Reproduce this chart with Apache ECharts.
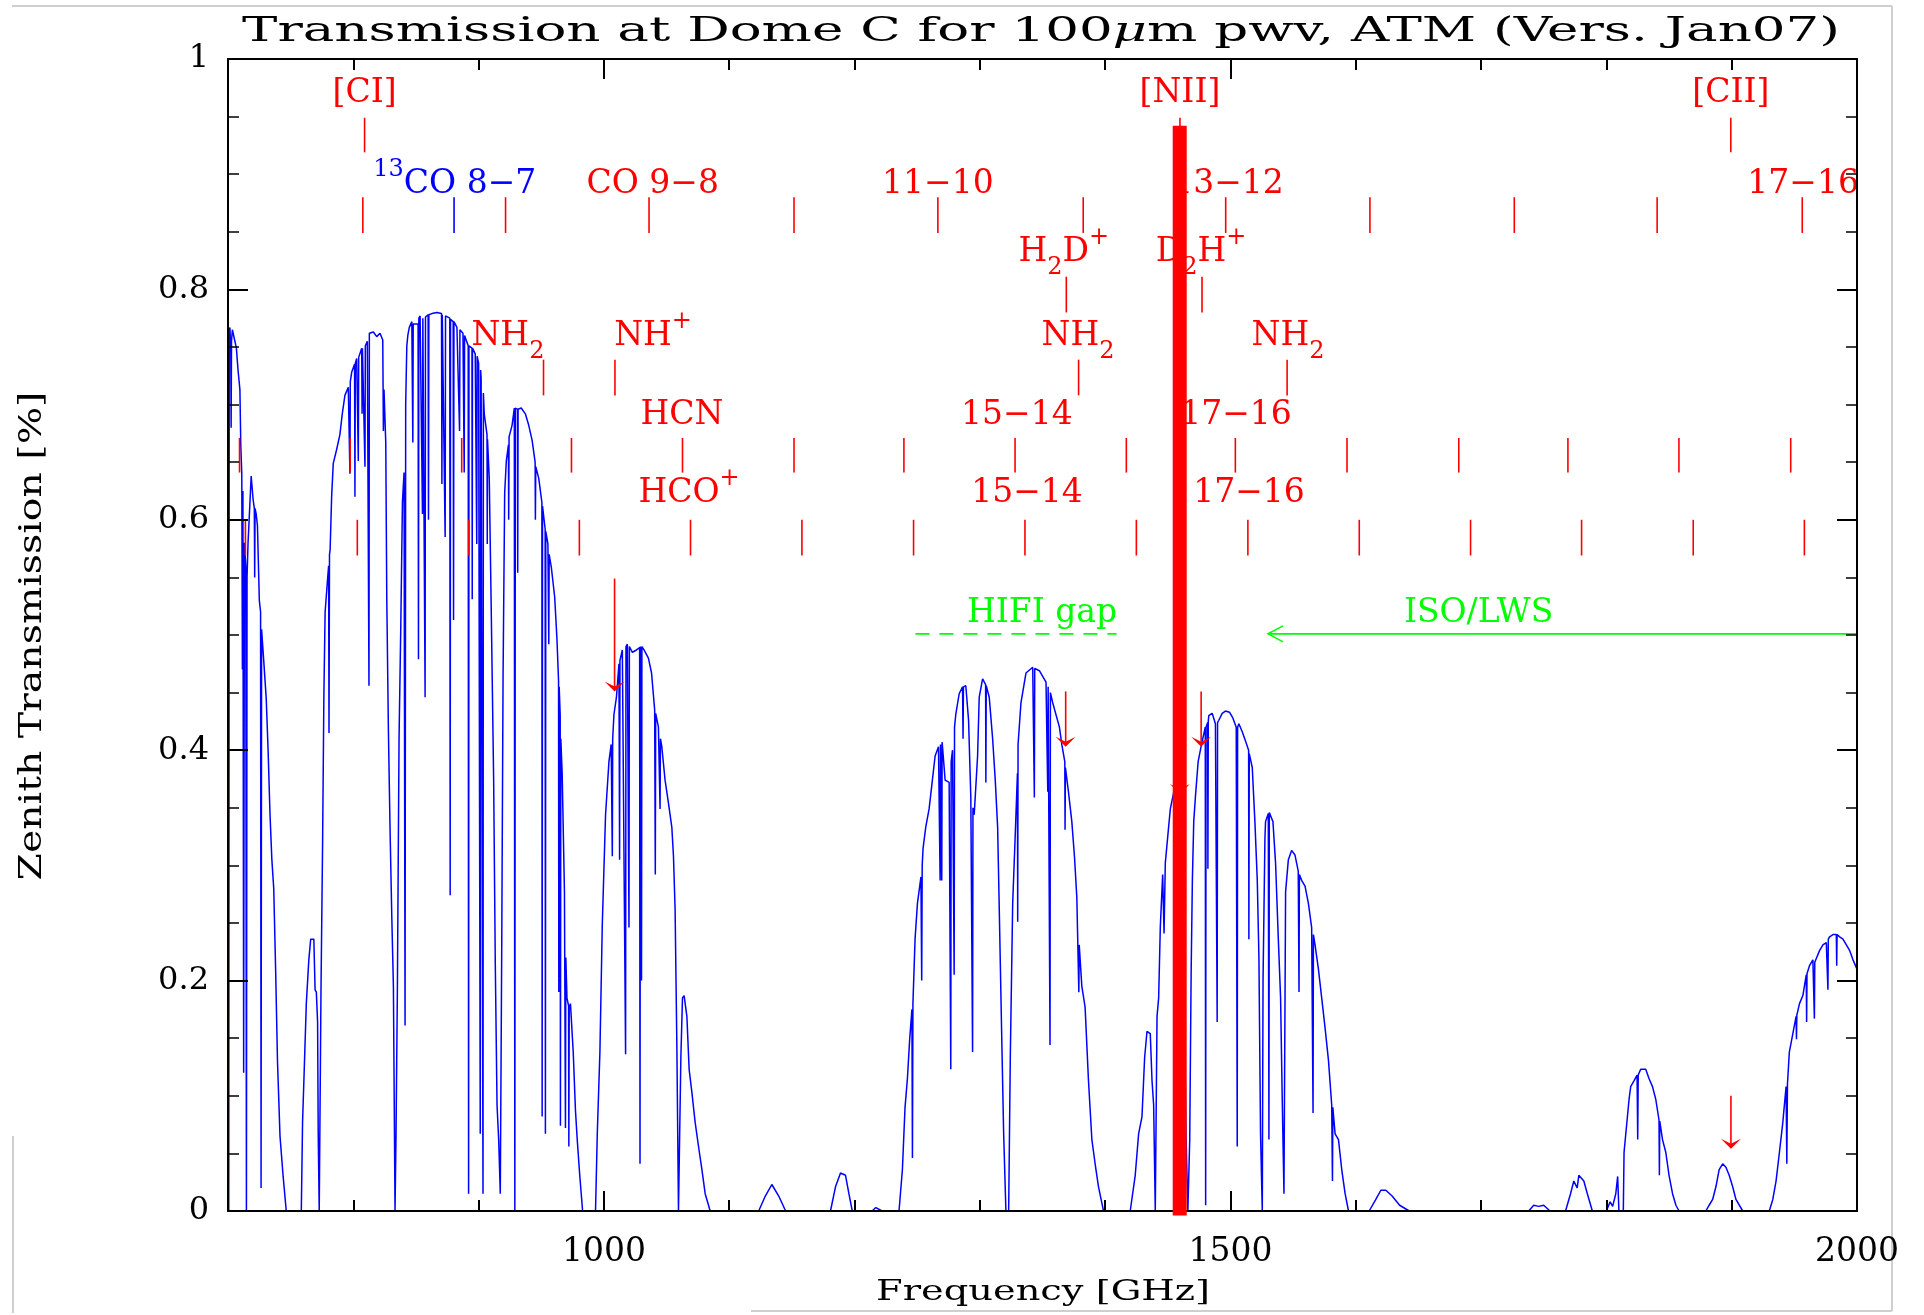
<!DOCTYPE html>
<html><head><meta charset="utf-8">
<script src="https://cdn.jsdelivr.net/npm/echarts@6/dist/echarts.min.js"></script>
<style>html,body{margin:0;padding:0;background:#fff}#chart{width:1924px;height:1315px}</style>
</head><body><div id="chart"></div>
<script>
// ---------- data ----------
// transmission curve: [frequency GHz, zenith transmission]
const transmission = [
[700,0.70],[700.6,0.0],[701,0.76],[701.5,0.767],[702.2,0.75],[702.5,0.68],[702.8,0.755],[703.5,0.765],[704.5,0.76],[705.5,0.755],[706.7,0.749],[708,0.73],[709.5,0.713],[710.2,0.665],[711,0.64],[711.5,0.47],[711.9,0.625],[712.5,0.12],[713.1,0.58],[714.2,0.56],[714.7,0.0],[715.2,0.55],[716,0.58],[717,0.603],[718.5,0.638],[720,0.618],[721,0.61],[721.3,0.55],[721.6,0.61],[722.5,0.605],[723.5,0.595],[725,0.53],[726,0.52],[726.4,0.02],[726.8,0.505],[728.5,0.478],[730.5,0.445],[732,0.4],[733.5,0.345],[735,0.305],[736.5,0.28],[738,0.21],[739.5,0.13],[741.5,0.065],[744,0.03],[746.5,0],
[758.5,0],[759.5,0.077],[761,0.128],[762.5,0.18],[764.5,0.218],[766,0.236],[768.5,0.236],[769.5,0.192],[770.5,0.19],[771.5,0.164],[772,0.067],[772.8,0],[773.8,0],[774.2,0.19],[775.5,0.32],
[776.5,0.446],[777.5,0.52],[779.5,0.549],[780.3,0.56],[780.6,0.415],[781,0.57],[781.5,0.574],[782.7,0.62],[784,0.649],[786.7,0.661],[789.3,0.674],[791.2,0.692],[793.3,0.708],[796,0.715],[797.3,0.64],[797.6,0.72],[798.7,0.728],[801,0.735],[801.3,0.62],[801.6,0.736],[802.7,0.74],[804,0.651],[804.3,0.741],[806.7,0.749],[807,0.692],[807.3,0.749],[809.3,0.646],[809.6,0.751],[811.2,0.755],[812.5,0.456],[812.8,0.762],[814,0.763],[816,0.763],[818.7,0.759],[821.3,0.762],[823.5,0.756],[824,0.677],[824.5,0.713],[825.9,0.667],[826.7,0.533],[828,0.418],[829.3,0.333],[830.7,0.256],[832,0.195],[833.3,0],
[834.1,0.067],[835.2,0.195],[836.5,0.41],[837.9,0.508],[839.2,0.615],[840.5,0.641],[841.3,0.161],[841.8,0.70],[842.7,0.751],[843.5,0.76],[844.7,0.767],[846.7,0.772],[847.5,0.667],[847.8,0.77],[849.3,0.769],[851.7,0.77],[852,0.479],[852.3,0.775],[853.3,0.777],[855.2,0.605],[855.5,0.775],[856.8,0.774],[857.3,0.446],[857.6,0.776],[859.7,0.778],[860,0.6],[860.3,0.778],[862.7,0.779],[866.7,0.78],[870.4,0.779],[870.7,0.631],[871,0.778],[873.3,0.585],[873.6,0.777],[877,0.775],[877.3,0.274],[877.6,0.774],[879.7,0.772],[880,0.513],[880.3,0.772],[882.7,0.767],[884.8,0.677],[885.1,0.765],[887.5,0.762],[888.5,0.641],[888.8,0.76],[891.7,0.751],[892,0.015],[892.3,0.751],[894.7,0.749],[894.9,0.531],[895.1,0.749],[897.3,0.744],[898.5,0.579],[898.8,0.742],[900,0.736],[901.3,0.067],[901.6,0.73],[902,0.723],[903.5,0.015],[903.8,0.71],[904.5,0.692],[906.7,0.674],[906.9,0.579],[907.1,0.67],[908.5,0.636],[910.1,0.52],[912,0.374],[913.3,0.215],[914.7,0.092],[916,0.062],[917.3,0.015],
[918.4,0.22],[919.5,0.462],[920.8,0.623],[922.1,0.651],[923.8,0.665],[924,0.6],[924.3,0.672],[926.7,0.682],[928.5,0.697],[928.9,0.0],[929.3,0.697],[931,0.696],[931.2,0.554],[931.5,0.696],[934,0.697],[937.3,0.692],[940,0.682],[942.7,0.669],[945.1,0.65],[945.3,0.6],[945.6,0.646],[948,0.636],[950.5,0.615],[950.7,0.082],[951,0.612],[953.1,0.592],[953.3,0.067],[953.6,0.59],[955.3,0.579],[956,0.492],[956.3,0.57],[958,0.559],[960.7,0.533],[962.5,0.497],[963.8,0.46],[964,0.19],[964.3,0.455],[965.1,0.43],[965.3,0.074],[965.6,0.41],[966.7,0.379],[968.5,0.277],[969.3,0.072],[969.6,0.22],[970.5,0.185],[971.8,0.178],[972,0.056],[972.3,0.177],[973.3,0.18],[975.5,0.138],[977.3,0.087],[978.7,0.062],[980.7,0.031],[983,0],
[993.3,0],[994.7,0.067],[996.8,0.138],[998.7,0.249],[1001.3,0.344],[1004,0.39],[1005.8,0.405],[1006.7,0.308],[1007,0.41],[1008,0.431],[1010,0.446],[1012,0.475],[1012.5,0.305],[1012.8,0.478],[1014.7,0.487],[1017.3,0.136],[1017.6,0.49],[1018.7,0.492],[1020,0.246],[1020.3,0.49],[1022.7,0.485],[1026,0.487],[1028.5,0.489],[1028.8,0.041],[1029.1,0.49],[1030,0.2],[1030.3,0.49],[1032,0.487],[1035.5,0.48],[1038,0.467],[1040.5,0.435],[1041,0.292],[1041.3,0.432],[1043.5,0.42],[1044.8,0.349],[1045.1,0.41],[1046.2,0.403],[1048.8,0.374],[1051.5,0.354],[1054.2,0.333],[1055.5,0.308],[1056.8,0.262],[1058.2,0.144],[1059.5,0],[1061.4,0.133],[1062.7,0.185],[1064,0.187],[1066.2,0.169],[1068,0.123],[1070.2,0.103],[1072.8,0.077],[1075.5,0.056],[1078.2,0.036],[1080.8,0.015],[1084.8,0],
[1123.5,0],[1128.8,0.013],[1134,0.023],[1139.5,0.013],[1145,0],
[1180.8,0],[1184.8,0.021],[1188.8,0.033],[1192.8,0.031],[1195.5,0.015],[1198.2,0],
[1214,0],[1217,0.003],[1222,0],
[1235.5,0],[1238.2,0.036],[1240.3,0.09],[1242.2,0.115],[1244,0.149],[1245.8,0.175],[1246.2,0.046],[1246.6,0.18],[1248.3,0.236],[1250.2,0.267],[1253,0.29],[1253.6,0.2],[1254,0.3],[1254.7,0.315],[1256.8,0.333],[1259.5,0.349],[1261.6,0.369],[1264.3,0.395],[1267,0.403],[1268.3,0.287],[1268.6,0.405],[1269.6,0.287],[1269.9,0.407],[1270.2,0.408],[1272.3,0.374],[1275.5,0.372],[1276.8,0.123],[1277.1,0.39],[1278.2,0.4],[1279.5,0.205],[1279.8,0.42],[1280.8,0.431],[1283.5,0.449],[1286.2,0.455],[1286.6,0.41],[1286.9,0.455],[1288.8,0.456],[1291,0.426],[1292.8,0.359],[1294.2,0.138],[1294.5,0.35],[1295.5,0.344],[1298.2,0.395],[1299.5,0.446],[1302.2,0.462],[1304.6,0.457],[1304.8,0.372],[1305.1,0.456],[1307.5,0.446],[1310.2,0.41],[1312.3,0.374],[1314.2,0.333],[1315.5,0.262],[1317.7,0.138],[1319,0.067],[1320.8,0],[1323,0],[1324.3,0.133],[1326.2,0.267],[1328.3,0.328],[1330,0.38],[1330.2,0.251],[1330.5,0.405],[1332.8,0.441],[1336.8,0.467],[1342.2,0.472],[1343.5,0.359],[1343.8,0.471],[1347.5,0.469],[1352.8,0.459],[1354.2,0.364],[1354.5,0.455],[1356,0.144],[1356.3,0.45],[1358.2,0.441],[1363.5,0.42],[1365.4,0.405],[1367.8,0.39],[1368,0.331],[1368.3,0.385],[1370.7,0.364],[1373.4,0.338],[1375.5,0.308],[1377.4,0.272],[1379,0.19],[1379.3,0.231],[1381.4,0.195],[1384,0.177],[1386.7,0.113],[1389.4,0.062],[1392,0.041],[1394.7,0.021],[1398.7,0],
[1420,0],[1424,0.031],[1426.7,0.067],[1429.4,0.082],[1431.5,0.133],[1433.4,0.156],[1436,0.154],[1437.4,0.113],[1438.7,0.092],[1440,0.0],[1441.4,0.169],[1442.7,0.185],[1444,0.246],[1445.9,0.292],[1447,0.241],[1448,0.302],[1450.2,0.328],[1452,0.349],[1456,0.37],[1460,0.38],[1463,0.2],[1464.5,0.067],[1466,0],[1467.5,0.062],[1468.6,0.205],[1469.6,0.287],[1470.7,0.338],[1472,0.359],[1474.2,0.39],[1476,0.4],[1477.9,0.41],[1479.9,0.42],[1480.2,0.005],[1480.5,0.42],[1481.8,0.424],[1482,0.297],[1482.3,0.425],[1482.7,0.43],[1485.4,0.432],[1488,0.423],[1489.4,0.164],[1489.7,0.424],[1490.7,0.426],[1493.4,0.432],[1496,0.434],[1499.2,0.433],[1501.9,0.428],[1504.6,0.42],[1505.4,0.056],[1505.7,0.42],[1506.7,0.423],[1509.4,0.416],[1512,0.408],[1514.5,0.4],[1514.7,0.236],[1515,0.397],[1517.4,0.385],[1519.5,0.338],[1521.4,0.287],[1522.7,0.221],[1524,0.067],[1525.4,0],[1526,0.2],[1527.5,0.323],[1528,0.338],[1530.2,0.345],[1530.7,0.062],[1531,0.346],[1532.3,0.346],[1533.9,0.338],[1536,0.302],[1538.2,0.236],[1540,0.185],[1541.4,0.092],[1542.7,0.015],[1544,0.277],[1546.2,0.305],[1548.8,0.313],[1551.5,0.309],[1554.1,0.295],[1554.7,0.19],[1555,0.292],[1556.8,0.287],[1559.5,0.282],[1562.2,0.267],[1564.8,0.246],[1565.9,0.085],[1566.2,0.24],[1567.5,0.231],[1570.2,0.21],[1572.8,0.185],[1575.5,0.159],[1578.2,0.131],[1580.8,0.092],[1581.4,0.026],[1581.7,0.09],[1583.5,0.067],[1586.2,0.062],[1588.8,0.036],[1591.5,0.015],[1594.2,0],
[1610.7,0],[1616,0.01],[1620,0.018],[1624,0.018],[1629,0.013],[1635,0.005],[1642.7,0],
[1738,0],[1742,0.005],[1746,0.004],[1750,0.005],[1755,0],
[1767.4,0],[1771.4,0.015],[1774,0.026],[1776.7,0.02],[1778,0.031],[1782,0.026],[1784.8,0.015],[1788.8,0],
[1800,0],[1803,0.008],[1805,0.004],[1807.5,0.015],[1809,0.03],[1810,0],
[1813.5,0],[1814.1,0.051],[1815.5,0.051],[1816.8,0.082],[1818.1,0.097],[1819.4,0.108],[1822,0.113],[1824.5,0.118],[1825,0.062],[1825.4,0.118],[1827.4,0.123],[1831.4,0.123],[1834,0.115],[1836.8,0.108],[1839.4,0.097],[1842,0.079],[1842.3,0.031],[1842.6,0.078],[1844.8,0.062],[1847.4,0.051],[1850,0.031],[1852.8,0.015],[1855.5,0.005],[1858,0],
[1879.4,0],[1882,0.005],[1884.8,0.01],[1887.4,0.021],[1890,0.036],[1892.8,0.041],[1895.4,0.038],[1898,0.031],[1900.8,0.021],[1903.4,0.01],[1908.8,0],
[1930,0],[1932.8,0.01],[1935.4,0.026],[1938.1,0.051],[1940.8,0.077],[1943.4,0.108],[1944,0.041],[1944.5,0.11],[1946,0.138],[1948.8,0.154],[1951.4,0.169],[1951.7,0.149],[1952,0.17],[1954.1,0.18],[1956.8,0.187],[1959.5,0.205],[1959.8,0.164],[1960.1,0.206],[1962.1,0.213],[1964.8,0.218],[1966,0.167],[1966.3,0.216],[1967.4,0.215],[1970.1,0.226],[1972.8,0.231],[1975.5,0.233],[1976.8,0.192],[1977.1,0.236],[1978.1,0.238],[1980.8,0.24],[1983.5,0.24],[1983.8,0.213],[1984.1,0.24],[1986.2,0.238],[1988.8,0.236],[1991.5,0.231],[1994.2,0.226],[1996.8,0.218],[2000,0.21]
];

// axis ticks / labels
const xMajorTicks = [1000, 1500, 2000];
const xMinorTicks = [800, 900, 1100, 1200, 1300, 1400, 1600, 1700, 1800, 1900];
const xTickLabels = [1000, 1500, 2000];

// line-marker frequencies (GHz) per row
const fineStructureFreqs = [809, 1459.7, 1899.3];
const coFreqs = [807.6, 921.5, 1036, 1151.7, 1266.5, 1382.5, 1496.2, 1611.3, 1726.5, 1840.5, 1956.3];
const co13Freqs = [880.4];
const deuteratedFreqs = [1369, 1477.3];
const hydrideFreqs = [951.8, 1008.8, 1378.8, 1545.2];
const hcnFreqs = [709.2, 797.5, 886.5, 974.1, 1062.7, 1151.7, 1239.4, 1328.1, 1416.9, 1503.9, 1593.0, 1682.2, 1769.3, 1857.9, 1947.1];
const hcoFreqs = [713.9, 803.2, 892.2, 980.4, 1069.1, 1158.0, 1247.1, 1336.0, 1424.9, 1513.9, 1602.8, 1691.6, 1780.2, 1869.3, 1958.0];
// marker extents (transmission units) per row: [bottom, top]
const fineStructureSpan = [0.919, 0.949];
const coSpan = [0.849, 0.880];
const deuteratedSpan = [0.780, 0.811];
const hydrideSpan = [0.708, 0.739];
const hcnSpan = [0.641, 0.671];
const hcoSpan = [0.569, 0.600];

// labels: [GHz, transmission, text, colour]
const annotationLabels = [
  [809, 0.970, '{n|[CI]}', 'red'],
  [1459.7, 0.970, '{n|[NII]}', 'red'],
  [1899.3, 0.970, '{n|[CII]}', 'red'],
  [881, 0.891, '{sup|13}{n|CO 8−7}', 'blue'],
  [1039, 0.891, '{n|CO 9−8}', 'red'],
  [1266.5, 0.891, '{n|11−10}', 'red'],
  [1498, 0.891, '{n|13−12}', 'red'],
  [1957, 0.891, '{n|17−16}', 'red'],
  [1367, 0.832, '{n|H}{sub|2}{n|D}{sup|+}', 'red'],
  [1476.5, 0.832, '{n|D}{sub|2}{n|H}{sup|+}', 'red'],
  [923.4, 0.759, '{n|NH}{sub|2}', 'red'],
  [1039.2, 0.759, '{n|NH}{sup|+}', 'red'],
  [1378.3, 0.759, '{n|NH}{sub|2}', 'red'],
  [1545.9, 0.759, '{n|NH}{sub|2}', 'red'],
  [1062.3, 0.691, '{n|HCN}', 'red'],
  [1329.6, 0.691, '{n|15−14}', 'red'],
  [1504.4, 0.691, '{n|17−16}', 'red'],
  [1067.9, 0.623, '{n|HCO}{sup|+}', 'red'],
  [1337.6, 0.623, '{n|15−14}', 'red'],
  [1514.8, 0.623, '{n|17−16}', 'red'],
  [1349.6, 0.519, '{n|HIFI gap}', 'green'],
  [1698, 0.519, '{n|ISO/LWS}', 'green']
];
// red arrows: [GHz, from, to]
const arrows = [[1008.5, 0.549, 0.451], [1368.5, 0.451, 0.403], [1476.6, 0.451, 0.403], [1459.7, 0.41, 0.362], [1899.4, 0.100, 0.054]];
// [NII] thick bar: [GHz, bottom, top]
const niiBar = [[1459.5, -0.004, 0.942]];
// HIFI gap dashed line: [GHz start, level, GHz end]
const hifiGap = [[1248.6, 0.501, 1409.1]];
// ISO/LWS arrow: [GHz start, level, GHz end (arrow tip)]
const isoLws = [[2000, 0.501, 1530]];

// ---------- styling ----------
const COLORS = {red: '#ff0000', blue: '#0000ff', green: '#00ff00'};
const FONT = '"DejaVu Serif"';

function tickItems(freqs, span, color) {
  return freqs.map(f => ({value: [f, span[0], span[1]], itemStyle: {color: color}}));
}
const markerData = [].concat(
  tickItems(fineStructureFreqs, fineStructureSpan, COLORS.red),
  tickItems(coFreqs, coSpan, COLORS.red),
  tickItems(co13Freqs, coSpan, COLORS.blue),
  tickItems(deuteratedFreqs, deuteratedSpan, COLORS.red),
  tickItems(hydrideFreqs, hydrideSpan, COLORS.red),
  tickItems(hcnFreqs, hcnSpan, COLORS.red),
  tickItems(hcoFreqs, hcoSpan, COLORS.red)
);

function rich(color) {
  return {
    n: {font: '33px ' + FONT, fill: color, lineHeight: 54, verticalAlign: 'middle'},
    sup: {font: '24px ' + FONT, fill: color, lineHeight: 20, verticalAlign: 'top'},
    sub: {font: '24px ' + FONT, fill: color, lineHeight: 30, verticalAlign: 'bottom'}
  };
}

const axisLineStyle = {color: '#000', width: 2};
function xAxisDef(position, ticks, len, showLine, labels) {
  return {
    type: 'value', min: 700, max: 2000, position: position, gridIndex: 0, z: 10,
    axisLine: {show: showLine, onZero: false, lineStyle: axisLineStyle},
    axisTick: {show: true, inside: true, length: len, customValues: ticks, lineStyle: {color: '#000', width: 2}},
    axisLabel: labels ? {show: true, customValues: labels, margin: 25, fontSize: 33, fontFamily: 'DejaVu Serif', color: '#000', formatter: v => String(v)} : {show: false},
    splitLine: {show: false}, minorSplitLine: {show: false}
  };
}
function yAxisDef(position, labels) {
  return {
    type: 'value', min: 0, max: 1, interval: 0.2, position: position, gridIndex: 0, z: 10,
    axisLine: {show: true, onZero: false, lineStyle: axisLineStyle},
    axisTick: {show: true, inside: true, length: 20, lineStyle: {color: '#000', width: 2}},
    minorTick: {show: true, splitNumber: 4, length: 11, lineStyle: {color: '#000', width: 1.5}},
    axisLabel: labels ? {show: true, margin: 19, fontSize: 32, fontFamily: 'DejaVu Serif', color: '#000',
      formatter: v => (v === 0 ? '0' : (Math.abs(v - 1) < 1e-9 ? '1' : v.toFixed(1)))} : {show: false},
    splitLine: {show: false}, minorSplitLine: {show: false}
  };
}

const chart = echarts.init(document.getElementById('chart'), null, {renderer: 'canvas'});
chart.setOption({
  animation: false,
  backgroundColor: '#ffffff',
  grid: {left: 228, right: 67, top: 59, bottom: 104, containLabel: false, outerBoundsMode: 'none'},
  xAxis: [
    xAxisDef('bottom', xMajorTicks, 20, true, xTickLabels),
    xAxisDef('bottom', xMinorTicks, 11, false, null),
    xAxisDef('top', xMajorTicks, 20, true, null),
    xAxisDef('top', xMinorTicks, 11, false, null)
  ],
  yAxis: [yAxisDef('left', true), yAxisDef('right', false)],
  graphic: [
    {type: 'line', shape: {x1: 12, y1: 6, x2: 1892, y2: 6}, style: {stroke: '#cfcfcf', lineWidth: 2}},
    {type: 'line', shape: {x1: 1892, y1: 6, x2: 1892, y2: 1311}, style: {stroke: '#cfcfcf', lineWidth: 2}},
    {type: 'line', shape: {x1: 751, y1: 1311, x2: 1892, y2: 1311}, style: {stroke: '#cfcfcf', lineWidth: 2}},
    {type: 'line', shape: {x1: 13, y1: 1136, x2: 13, y2: 1313}, style: {stroke: '#cfcfcf', lineWidth: 2}},
    {type: 'text', x: 1041, y: 32, scaleX: 1.56, style: {
      text: '{n|Transmission at Dome C for 100}{i|μ}{n|m pwv, ATM (Vers. Jan07)}',
      rich: {n: {font: '34px ' + FONT, fill: '#000'}, i: {font: 'italic 34px ' + FONT, fill: '#000'}},
      fill: '#000', font: '34px ' + FONT, align: 'center', textAlign: 'center', verticalAlign: 'middle', textVerticalAlign: 'middle'}},
    {type: 'text', x: 1043, y: 1293, scaleX: 1.37, style: {
      text: 'Frequency [GHz]', fill: '#000', font: '28px ' + FONT,
      align: 'center', textAlign: 'center', verticalAlign: 'middle', textVerticalAlign: 'middle'}},
    {type: 'text', x: 33, y: 636, rotation: Math.PI / 2, scaleX: 1.23, style: {
      text: 'Zenith Transmission [%]', fill: '#000', font: '32px ' + FONT,
      align: 'center', textAlign: 'center', verticalAlign: 'middle', textVerticalAlign: 'middle'}}
  ],
  series: [
    {
      type: 'line', name: 'transmission', data: transmission, xAxisIndex: 0, yAxisIndex: 0,
      symbol: 'none', showSymbol: false, sampling: null, z: 2,
      lineStyle: {color: COLORS.blue, width: 1.5}, clip: true
    },
    {
      type: 'custom', name: 'markers', data: markerData, z: 3, clip: false,
      renderItem: function (params, api) {
        const a = api.coord([api.value(0), api.value(1)]);
        const b = api.coord([api.value(0), api.value(2)]);
        return {type: 'line', shape: {x1: a[0], y1: a[1], x2: b[0], y2: b[1]}, style: {stroke: api.visual('color'), lineWidth: 1.6}};
      }
    },
    {
      type: 'custom', name: 'labels', data: annotationLabels.map(l => [l[0], l[1]]), z: 3, clip: false,
      renderItem: function (params, api) {
        const L = annotationLabels[params.dataIndex];
        const c = COLORS[L[3]];
        const p = api.coord([api.value(0), api.value(1)]);
        return {type: 'text', x: p[0], y: p[1], style: {
          text: L[2], rich: rich(c), fill: c, font: '33px ' + FONT,
          align: 'center', textAlign: 'center', verticalAlign: 'middle', textVerticalAlign: 'middle'}};
      }
    },
    {
      type: 'custom', name: 'arrows', data: arrows, z: 4, clip: false,
      renderItem: function (params, api) {
        const a = api.coord([api.value(0), api.value(1)]);
        const t = api.coord([api.value(0), api.value(2)]);
        return {type: 'group', children: [
          {type: 'line', shape: {x1: a[0], y1: a[1], x2: t[0], y2: t[1] - 4}, style: {stroke: COLORS.red, lineWidth: 1.6}},
          {type: 'polygon', shape: {points: [[t[0] - 10, t[1] - 10], [t[0], t[1]], [t[0] + 10, t[1] - 10], [t[0], t[1] - 5]]}, style: {fill: COLORS.red}}
        ]};
      }
    },
    {
      type: 'custom', name: 'hifiGap', data: hifiGap, z: 4, clip: false,
      renderItem: function (params, api) {
        const a = api.coord([api.value(0), api.value(1)]);
        const b = api.coord([api.value(2), api.value(1)]);
        return {type: 'line', shape: {x1: a[0], y1: a[1], x2: b[0], y2: b[1]}, style: {stroke: COLORS.green, lineWidth: 1.6, lineDash: [14, 10]}};
      }
    },
    {
      type: 'custom', name: 'isoLws', data: isoLws, z: 4, clip: false,
      renderItem: function (params, api) {
        const a = api.coord([api.value(0), api.value(1)]);
        const t = api.coord([api.value(2), api.value(1)]);
        return {type: 'group', children: [
          {type: 'line', shape: {x1: a[0], y1: a[1], x2: t[0], y2: t[1]}, style: {stroke: COLORS.green, lineWidth: 1.6}},
          {type: 'polyline', shape: {points: [[t[0] + 15, t[1] - 8], [t[0], t[1]], [t[0] + 15, t[1] + 8]]}, style: {stroke: COLORS.green, lineWidth: 1.6, fill: null}}
        ]};
      }
    },
    {
      type: 'custom', name: 'niiBar', data: niiBar, z: 20, clip: false,
      renderItem: function (params, api) {
        const a = api.coord([api.value(0), api.value(1)]);
        const b = api.coord([api.value(0), api.value(2)]);
        return {type: 'rect', shape: {x: a[0] - 7, y: b[1], width: 14, height: a[1] - b[1]}, style: {fill: COLORS.red}};
      }
    }
  ]
});
</script>
</body></html>
